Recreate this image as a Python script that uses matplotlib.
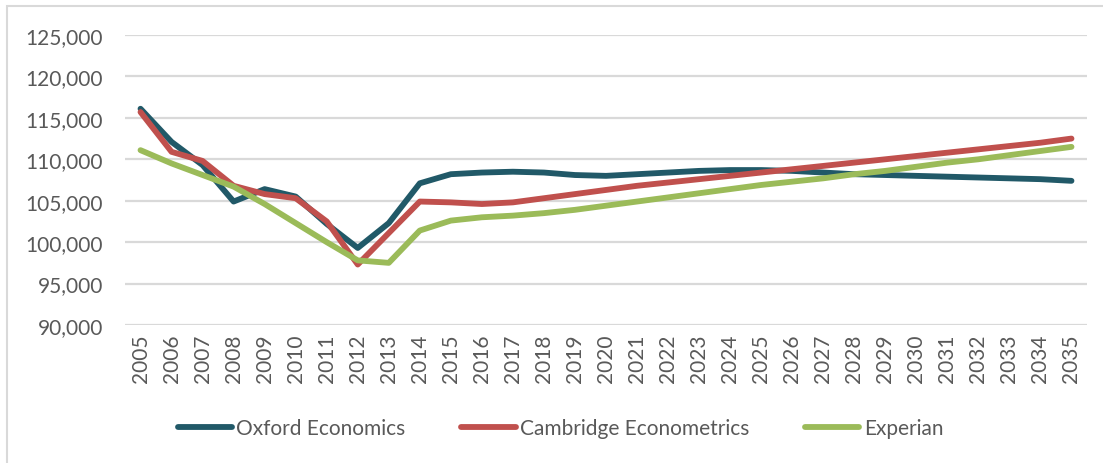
import matplotlib.pyplot as plt
from matplotlib.patches import Rectangle
from matplotlib.ticker import FuncFormatter

plt.rcParams['font.family'] = ['Lato', 'DejaVu Sans']

years = list(range(2005, 2036))

oxford = [116100, 112100, 109300, 104900, 106400, 105500, 102200, 99300, 102300, 107100,
          108200, 108400, 108500, 108400, 108100, 108000, 108200, 108400, 108600, 108700,
          108700, 108600, 108400, 108200, 108100, 108000, 107900, 107800, 107700, 107600,
          107400]
cambridge = [115700, 110900, 109800, 106800, 105800, 105300, 102500, 97300, 101100, 104900,
             104800, 104600, 104800, 105300, 105800, 106300, 106800, 107200, 107600, 108000,
             108400, 108800, 109200, 109600, 110000, 110400, 110800, 111200, 111600, 112000,
             112500]
experian = [111100, 109500, 108100, 106700, 104600, 102300, 100000, 97800, 97500, 101400,
            102600, 103000, 103200, 103500, 103900, 104400, 104900, 105400, 105900, 106400,
            106900, 107300, 107700, 108200, 108600, 109100, 109600, 110000, 110500, 111000,
            111500]

series = [
    ('Oxford Economics', oxford, '#215968'),
    ('Cambridge Econometrics', cambridge, '#C0504D'),
    ('Experian', experian, '#9BBB59'),
]

text_col = '#595959'
grid_col = '#D9D9D9'

fig = plt.figure(figsize=(11.03, 4.64), dpi=100)
ax = fig.add_axes([125 / 1103, 1 - 326 / 464, 962 / 1103, 290 / 464])

for name, vals, col in series:
    ax.plot(years, vals, color=col, lw=4.2, label=name,
            solid_capstyle='round', solid_joinstyle='round')

ax.set_xlim(2004.5, 2035.5)
ax.set_ylim(90000, 125000)
ax.set_yticks(range(90000, 125001, 5000))
ax.yaxis.set_major_formatter(FuncFormatter(lambda v, p: f'{int(v):,}'))
ax.set_xticks(years)
ax.set_xticklabels([str(y) for y in years], rotation=90)

ax.grid(axis='y', color=grid_col, lw=1.6)
ax.set_axisbelow(True)
for s in ax.spines.values():
    s.set_visible(False)
ax.tick_params(length=0, labelsize=15, colors=text_col)
ax.tick_params(axis='y', pad=16)
ax.tick_params(axis='x', pad=6)

# chart-area border
fig.patches.append(Rectangle((7 / 1103, -0.1), 1.1, 1 - 7 / 464 + 0.1,
                             transform=fig.transFigure, fill=False,
                             edgecolor=grid_col, lw=1.5))

fig.legend(loc='center', bbox_to_anchor=(0.508, 1 - 429 / 464), ncol=3,
           frameon=False, fontsize=15, labelcolor=text_col,
           handlelength=2.6, handletextpad=0.2, columnspacing=2.7)

fig.savefig('out.png', dpi=100)
